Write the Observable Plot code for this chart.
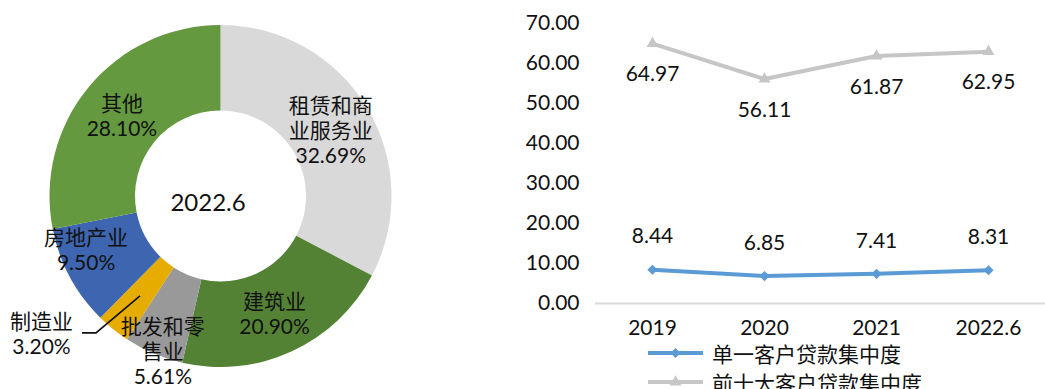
<!DOCTYPE html>
<html><head><meta charset="utf-8">
<script src="https://cdn.jsdelivr.net/npm/d3@7"></script>
<script src="https://cdn.jsdelivr.net/npm/@observablehq/plot@0.6"></script>
<style>
body{margin:0;background:#fff;width:1045px;height:389px;overflow:hidden;position:relative;font-family:Lato,"Noto Sans CJK SC",sans-serif;}
#donut{position:absolute;left:0;top:0;}
#line{position:absolute;left:500px;top:0;}
#legend{position:absolute;left:648px;top:338px;font-size:21px;color:#111;font-family:"Noto Sans CJK SC",sans-serif;}
.item{display:flex;align-items:center;height:29px;white-space:nowrap;}
.item svg{margin-right:9px;}
</style></head><body>
<div id="donut"></div><div id="line"></div><div id="legend"></div>
<script>
// ---- data ----
const industries = ["租赁和商业服务业", "建筑业", "批发和零售业", "制造业", "房地产业", "其他"];
const industryLabels = ["租赁和商\n业服务业", "建筑业", "批发和零\n售业", "制造业", "房地产业", "其他"];
const shares = [32.69, 20.90, 5.61, 3.20, 9.50, 28.10];
const centerLabel = "2022.6";

const years = ["2019", "2020", "2021", "2022.6"];
const singleClient = [8.44, 6.85, 7.41, 8.31];
const topTenClients = [64.97, 56.11, 61.87, 62.95];
const seriesNames = ["单一客户贷款集中度", "前十大客户贷款集中度"];
const yTicks = [0, 10, 20, 30, 40, 50, 60, 70];

// ---- styles / layout ----
const sliceColors = ["#D9D9D9", "#548235", "#999999", "#E6AC00", "#3D65B0", "#64993F"];
const seriesColors = ["#5B9BD5", "#C6C6C6"];
const textColor = "#111";
const fontFamily = "Lato, 'Noto Sans CJK SC', sans-serif";
const innerRatio = 0.5;
const outerPx = 171; // outer radius in pixels
const labelNudge = {"房地产业": [-22, -8], "批发和零售业": [-8, 36], "制造业": [-99, 37]};

// ---- donut ----
const slices = industries.map((name, i) => ({name, label: industryLabels[i], share: shares[i]}));
const arcs = d3.pie().sort(null).value(d => d.share)(slices);
const rho = (1 + innerRatio) / 2;
const labelRows = arcs.map(a => {
  const t = (a.startAngle + a.endAngle) / 2;
  const text = a.data.label + "\n" + d3.format(".2f")(a.data.share) + "%";
  const [dx, dy] = labelNudge[a.data.name] || [0, 0];
  const cx = rho * Math.sin(t), cy = rho * Math.cos(t);
  return {name: a.data.name, text, cx, cy, x: cx + dx / outerPx, y: cy - dy / outerPx};
});
const colorScale = Plot.scale({color: {domain: industries, range: sliceColors}});

function donutMark(index, scales) {
  const sx = scales.x, sy = scales.y;
  const cx = sx(0), cy = sy(0);
  const R = sx(1) - cx, r = sx(innerRatio) - cx;
  const arcGen = d3.arc().innerRadius(r).outerRadius(R);
  const g = d3.create("svg:g");
  g.selectAll("path").data(arcs).join("path")
    .attr("transform", `translate(${cx},${cy})`)
    .attr("d", arcGen)
    .attr("fill", d => colorScale.apply(d.data.name));
  // leader line for the small slice labelled outside
  const lab = labelRows.find(d => d.name === "制造业");
  const px = sx(lab.cx), py = sy(lab.cy);
  g.append("path")
    .attr("d", `M${px},${py}L${px - 44},${py + 37}L${px - 58},${py + 37}`)
    .attr("fill", "none").attr("stroke", "#111").attr("stroke-width", 1.6);
  return g.node();
}

const donut = Plot.plot({
  width: 450, height: 389,
  margin: 0,
  style: {fontFamily, background: "transparent", color: textColor},
  x: {domain: [-1, 1], range: [220.5 - outerPx, 220.5 + outerPx], axis: null},
  y: {domain: [-1, 1], range: [196 + outerPx, 196 - outerPx], axis: null},
  marks: [
    donutMark,
    Plot.text(labelRows, {x: "x", y: "y", text: "text", fontSize: 21, lineHeight: 1.19, fill: textColor}),
    Plot.text([centerLabel], {x: () => 0, y: () => 0, text: d => d, dx: -13, dy: 7, fontSize: 24, fill: textColor})
  ]
});
document.getElementById("donut").append(donut);

// ---- line chart ----
const rows = years.flatMap((yr, i) => [
  {year: yr, series: seriesNames[0], value: singleClient[i]},
  {year: yr, series: seriesNames[1], value: topTenClients[i]}
]);
const single = rows.filter(d => d.series === seriesNames[0]);
const top10 = rows.filter(d => d.series === seriesNames[1]);
const fmt = d3.format(".2f");

const line = Plot.plot({
  width: 545, height: 345,
  marginLeft: 95, marginRight: 0, marginTop: 23, marginBottom: 42,
  style: {fontFamily, fontSize: "21px", color: textColor, background: "transparent"},
  x: {type: "point", domain: years, padding: 0.5, label: null, tickSize: 0, tickPadding: 17},
  y: {domain: [0, 70], ticks: yTicks, tickFormat: fmt, label: null, tickSize: 0, tickPadding: 16},
  color: {domain: seriesNames, range: seriesColors},
  marks: [
    Plot.ruleY([0], {stroke: "#D9D9D9", strokeWidth: 2}),
    Plot.line(rows, {x: "year", y: "value", z: "series", stroke: "series", strokeWidth: 4}),
    Plot.dot(single, {x: "year", y: "value", symbol: "diamond2", r: 4.6, fill: "series", stroke: null}),
    Plot.dot(top10, {x: "year", y: "value", symbol: "triangle", r: 4.4, fill: "series", stroke: null}),
    Plot.text(single, {x: "year", y: "value", text: d => fmt(d.value), dy: -33, fill: textColor, fontSize: 21}),
    Plot.text(top10, {x: "year", y: "value", text: d => fmt(d.value), dy: 31, fill: textColor, fontSize: 21})
  ]
});
document.getElementById("line").append(line);

// ---- legend ----
const legend = d3.select("#legend");
const markerSym = [d3.symbolDiamond2, d3.symbolTriangle];
const markerSize = [Math.PI * 4.6 * 4.6, Math.PI * 4.4 * 4.4];
seriesNames.forEach((name, i) => {
  const item = legend.append("div").attr("class", "item");
  const s = item.append("svg").attr("width", 55).attr("height", 16);
  s.append("line").attr("x1", 0).attr("x2", 55).attr("y1", 8).attr("y2", 8)
    .attr("stroke", seriesColors[i]).attr("stroke-width", 4);
  s.append("path").attr("transform", "translate(27.5,8)")
    .attr("d", d3.symbol(markerSym[i], markerSize[i])()).attr("fill", seriesColors[i]);
  item.append("span").text(name);
});
</script>
</body></html>
